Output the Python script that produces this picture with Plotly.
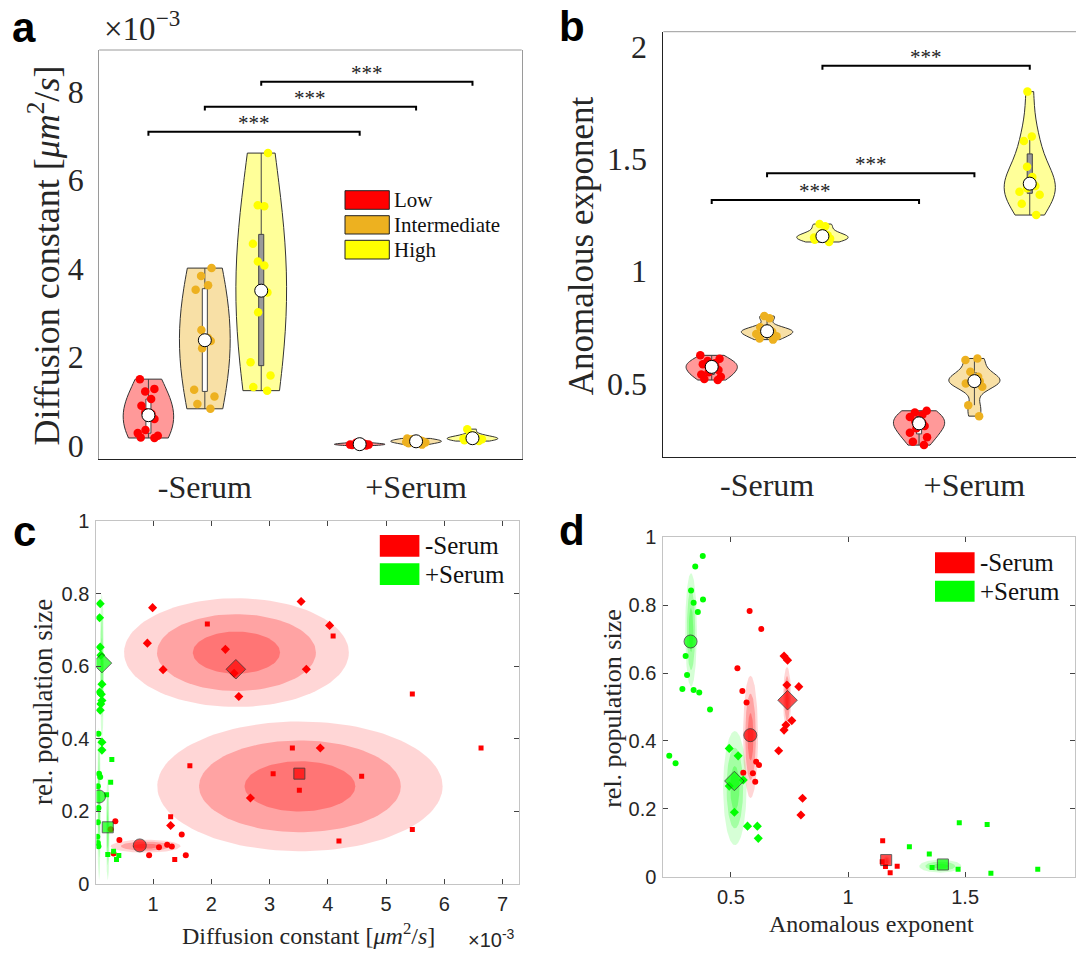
import numpy as np
import plotly.graph_objects as go

W, H = 1076, 956
SERIF = "Liberation Serif"
SANS = "Liberation Sans"

# ---------------- data ----------------
groups = ['-Serum', '+Serum']
levels = ['Low', 'Intermediate', 'High']
level_colors = ['#FF0000', '#EDB120', '#FFFF00']
level_fill = ['rgba(255,0,0,0.4)', 'rgba(237,177,32,0.4)', 'rgba(255,255,0,0.4)']
level_box = ['white', 'white', '#9a9a9a']
group_pos = [1, 2]
level_offset = [-0.267, 0.0, 0.267]

# Panel a: diffusion constant (x1e-3 um^2/s)
D_minus_low = [1.50, 1.28, 1.22, 1.05, 0.90, 0.75, 0.72, 0.65, 0.60, 0.35, 0.28, 0.22, 0.18, 0.17]
D_minus_int = [4.01, 3.83, 3.62, 3.52, 2.61, 2.43, 2.38, 2.36, 2.20, 1.26, 1.11, 0.94, 0.83]
D_minus_high = [6.61, 5.43, 5.41, 4.56, 4.16, 4.07, 3.50, 3.46, 3.01, 1.88, 1.58, 1.32, 1.24]
D_plus_low = [0.00, 0.01, 0.02, 0.02, 0.03, 0.03, 0.04, 0.05, 0.06]
D_plus_int = [0.02, 0.05, 0.07, 0.08, 0.09, 0.10, 0.11, 0.12, 0.14, 0.16]
D_plus_high = [0.10, 0.12, 0.14, 0.15, 0.16, 0.17, 0.18, 0.20, 0.25, 0.37]

# Panel b: anomalous exponent
A_minus_low = [0.625, 0.61, 0.60, 0.59, 0.585, 0.58, 0.577, 0.57, 0.56, 0.55, 0.54, 0.53, 0.52, 0.515]
A_minus_int = [0.80, 0.79, 0.75, 0.74, 0.738, 0.735, 0.73, 0.725, 0.72, 0.71, 0.70, 0.695]
A_minus_high = [1.21, 1.20, 1.17, 1.16, 1.156, 1.15, 1.145, 1.14, 1.13]
A_plus_low = [0.378, 0.37, 0.36, 0.35, 0.33, 0.325, 0.322, 0.31, 0.30, 0.28, 0.26, 0.24, 0.225]
A_plus_int = [0.611, 0.604, 0.552, 0.53, 0.52, 0.51, 0.507, 0.50, 0.485, 0.403, 0.354]
A_plus_high = [1.80, 1.60, 1.58, 1.465, 1.42, 1.40, 1.38, 1.37, 1.354, 1.34, 1.30, 1.25]

# significance brackets: level index and bracket height
a_bracket_levels = [0, 1, 2]
a_bracket_y = [7.09, 7.66, 8.22]
b_bracket_levels = [0, 1, 2]
b_bracket_y = [1.317, 1.436, 1.915]
sig_label = '***'

# Panel c: diffusion constant (x1e-3) vs rel. population size
c_minus_low_x = [0.35, 0.27, 0.42, 0.32, 0.93, 1.10, 1.24, 1.32, 1.49, 1.56]
c_minus_low_y = [0.172, 0.150, 0.120, 0.083, 0.078, 0.100, 0.107, 0.102, 0.135, 0.078]
c_minus_int_x = [0.99, 0.90, 1.17, 2.24, 2.39, 2.47, 3.54, 4.03, 3.63, 3.87, 2.67, 1.30]
c_minus_int_y = [0.761, 0.663, 0.590, 0.646, 0.580, 0.516, 0.778, 0.712, 0.591, 0.374, 0.236, 0.160]
c_minus_high_x = [1.93, 4.09, 5.45, 6.63, 3.39, 3.06, 3.51, 4.58, 1.63, 5.45, 4.19, 1.30, 1.37]
c_minus_high_y = [0.716, 0.683, 0.523, 0.374, 0.374, 0.303, 0.257, 0.296, 0.325, 0.149, 0.117, 0.184, 0.066]
c_plus_low_x = [0.06, 0.07, 0.09, 0.05, 0.06, 0.05, 0.04, 0.05, 0.06]
c_plus_low_y = [0.413, 0.303, 0.294, 0.268, 0.208, 0.169, 0.129, 0.112, 0.103]
c_plus_int_x = [0.09, 0.08, 0.09, 0.10, 0.12, 0.08, 0.11, 0.10, 0.12, 0.09, 0.12, 0.12]
c_plus_int_y = [0.772, 0.733, 0.652, 0.630, 0.550, 0.528, 0.522, 0.495, 0.505, 0.478, 0.390, 0.368]
c_plus_high_x = [0.29, 0.27, 0.20, 0.32, 0.22, 0.41, 0.37]
c_plus_high_y = [0.342, 0.279, 0.245, 0.089, 0.080, 0.077, 0.066]
c_mean_x = {'minus': [0.77, 2.42, 3.51], 'plus': [0.07, 0.12, 0.22]}
c_mean_y = {'minus': [0.105, 0.591, 0.303], 'plus': [0.240, 0.608, 0.155]}
# ellipses (center, outer semi-axes)
c_ell_cx = {'minus': [0.87, 2.43, 3.52], 'plus': [0.07, 0.12, 0.22]}
c_ell_cy = {'minus': [0.103, 0.637, 0.268], 'plus': [0.22, 0.60, 0.15]}
c_ell_ax = {'minus': [0.60, 1.93, 2.45], 'plus': [0.03, 0.035, 0.03]}
c_ell_ay = {'minus': [0.018, 0.150, 0.179], 'plus': [0.21, 0.20, 0.14]}

# Panel d: anomalous exponent vs rel. population size
d_minus_low_x = [0.580, 0.630, 0.528, 0.549, 0.567, 0.608, 0.620, 0.594, 0.553, 0.604]
d_minus_low_y = [0.783, 0.730, 0.614, 0.547, 0.513, 0.339, 0.329, 0.305, 0.306, 0.280]
d_minus_int_x = [0.727, 0.742, 0.790, 0.739, 0.760, 0.735, 0.727, 0.704, 0.806, 0.799]
d_minus_int_y = [0.650, 0.638, 0.560, 0.565, 0.460, 0.447, 0.432, 0.371, 0.231, 0.182]
d_minus_high_x = [1.148, 1.146, 1.160, 1.210, 1.180]
d_minus_high_y = [0.106, 0.044, 0.030, 0.031, 0.012]
d_plus_low_x = [0.380, 0.348, 0.330, 0.341, 0.381, 0.359, 0.307, 0.313, 0.293, 0.341, 0.365, 0.411, 0.237, 0.264]
d_plus_low_y = [0.945, 0.914, 0.843, 0.807, 0.817, 0.780, 0.650, 0.594, 0.553, 0.550, 0.543, 0.493, 0.356, 0.334]
d_plus_int_x = [0.493, 0.531, 0.553, 0.493, 0.515, 0.571, 0.613, 0.617]
d_plus_int_y = [0.378, 0.356, 0.285, 0.267, 0.190, 0.149, 0.149, 0.113]
d_plus_high_x = [1.262, 1.347, 1.359, 1.470, 1.475, 1.594, 1.610, 1.810]
d_plus_high_y = [0.088, 0.067, 0.027, 0.022, 0.159, 0.154, 0.010, 0.022]
d_mean_x = {'minus': [0.583, 0.742, 1.163], 'plus': [0.328, 0.515, 1.405]}
d_mean_y = {'minus': [0.417, 0.520, 0.049], 'plus': [0.693, 0.282, 0.036]}
d_ell_cx = {'minus': [0.584, 0.740, 1.165], 'plus': [0.330, 0.517, 1.394]}
d_ell_cy = {'minus': [0.412, 0.525, 0.045], 'plus': [0.727, 0.261, 0.031]}
d_ell_ax = {'minus': [0.032, 0.017, 0.015], 'plus': [0.025, 0.050, 0.090]}
d_ell_ay = {'minus': [0.180, 0.093, 0.015], 'plus': [0.167, 0.168, 0.019]}

level_symbols = ['circle', 'diamond', 'square']
group_col = {'minus': '#FF0000', 'plus': '#00FF00'}
group_rgb = {'minus': '255,0,0', 'plus': '0,255,0'}
ell_scales = [1.0, 0.707, 0.388]
ell_alpha = [0.16, 0.24, 0.28]
bw_factor = {'a': 2.3, 'b': 1.6}

# ---------------- figure ----------------
fig = go.Figure()

def px_x(p):
    return p / W

def px_y(p):
    return 1 - p / H

def silverman(v):
    v = np.asarray(v, float)
    sd = v.std(ddof=1)
    iqr = np.subtract(*np.percentile(v, [75, 25]))
    s = min(sd, iqr / 1.34) if iqr > 0 else sd
    return 0.9 * s * len(v) ** (-0.2)

violin_sets = {
    'a': [[D_minus_low, D_minus_int, D_minus_high], [D_plus_low, D_plus_int, D_plus_high]],
    'b': [[A_minus_low, A_minus_int, A_minus_high], [A_plus_low, A_plus_int, A_plus_high]],
}
axes_of = {'a': ('x', 'y'), 'b': ('x2', 'y2')}
vwidth = {'a': 0.239, 'b': 0.247}

for panel, sets in violin_sets.items():
    xa, ya = axes_of[panel]
    for gi, gsets in enumerate(sets):
        for li, vals in enumerate(gsets):
            pos = group_pos[gi] + level_offset[li]
            fig.add_trace(go.Violin(
                x0=pos, y=vals, xaxis=xa, yaxis=ya, width=vwidth[panel],
                scalemode='width', spanmode='hard', side='both',
                bandwidth=bw_factor[panel] * silverman(vals),
                fillcolor=level_fill[li], line=dict(color='#333333', width=1),
                points='all', pointpos=0, jitter=0.5,
                marker=dict(color=level_colors[li], size=8.5, opacity=1, line=dict(width=0)),
                box=dict(visible=True, width=0.1, fillcolor=level_box[li],
                         line=dict(color='#444444', width=1)),
                meanline=dict(visible=False), showlegend=False, hoverinfo='y'))
            fig.add_trace(go.Scatter(
                x=[pos], y=[float(np.median(vals))], xaxis=xa, yaxis=ya, mode='markers',
                marker=dict(color='white', size=13, line=dict(color='black', width=1)),
                showlegend=False, hoverinfo='skip'))

shapes = []
annotations = []

def add_brackets(lev, ys, xa, ya, drop):
    for li, yb in zip(lev, ys):
        x1 = group_pos[0] + level_offset[li]
        x2 = group_pos[1] + level_offset[li]
        shapes.append(dict(type='path', xref=xa, yref=ya,
                           path=f'M {x1},{yb - drop} L {x1},{yb} L {x2},{yb} L {x2},{yb - drop}',
                           line=dict(color='black', width=2)))
        annotations.append(dict(x=(x1 + x2) / 2, y=yb, xref=xa, yref=ya, text=sig_label,
                                showarrow=False, yanchor='bottom', yshift=-5,
                                font=dict(family=SERIF, size=21, color='#222')))

add_brackets(a_bracket_levels, a_bracket_y, 'x', 'y', 0.09)
add_brackets(b_bracket_levels, b_bracket_y, 'x2', 'y2', 0.018)

def ellipse(cx, cy, ax, ay, n=120):
    t = np.linspace(0, 2 * np.pi, n)
    return cx + ax * np.cos(t), cy + ay * np.sin(t)

scatter_sets = {
    'c': {'minus': [(c_minus_low_x, c_minus_low_y), (c_minus_int_x, c_minus_int_y), (c_minus_high_x, c_minus_high_y)],
          'plus': [(c_plus_low_x, c_plus_low_y), (c_plus_int_x, c_plus_int_y), (c_plus_high_x, c_plus_high_y)]},
    'd': {'minus': [(d_minus_low_x, d_minus_low_y), (d_minus_int_x, d_minus_int_y), (d_minus_high_x, d_minus_high_y)],
          'plus': [(d_plus_low_x, d_plus_low_y), (d_plus_int_x, d_plus_int_y), (d_plus_high_x, d_plus_high_y)]},
}
ell_sets = {'c': (c_ell_cx, c_ell_cy, c_ell_ax, c_ell_ay), 'd': (d_ell_cx, d_ell_cy, d_ell_ax, d_ell_ay)}
mean_sets = {'c': (c_mean_x, c_mean_y), 'd': (d_mean_x, d_mean_y)}
axes_sc = {'c': ('x3', 'y3'), 'd': ('x4', 'y4')}

for panel in ['c', 'd']:
    xa, ya = axes_sc[panel]
    ecx, ecy, eax, eay = ell_sets[panel]
    for g in ['minus', 'plus']:
        for li in range(3):
            for s, al in zip(ell_scales, ell_alpha):
                ex, ey = ellipse(ecx[g][li], ecy[g][li], eax[g][li] * s, eay[g][li] * s)
                fig.add_trace(go.Scatter(x=ex, y=ey, xaxis=xa, yaxis=ya, mode='lines',
                                         fill='toself', fillcolor=f'rgba({group_rgb[g]},{al})',
                                         line=dict(width=0), showlegend=False, hoverinfo='skip'))
    for g in ['minus', 'plus']:
        for li in range(3):
            xs, ys = scatter_sets[panel][g][li]
            fig.add_trace(go.Scatter(x=xs, y=ys, xaxis=xa, yaxis=ya, mode='markers',
                                     marker=dict(symbol=level_symbols[li], color=group_col[g],
                                                 size=[6, 7, 5][li], line=dict(width=0)),
                                     showlegend=False, hoverinfo='skip'))
    mx, my = mean_sets[panel]
    for g in ['minus', 'plus']:
        fig.add_trace(go.Scatter(x=mx[g], y=my[g], xaxis=xa, yaxis=ya, mode='markers',
                                 marker=dict(symbol=level_symbols, color=group_col[g],
                                             size=[13, 15, 11], line=dict(color='#222', width=1)),
                                 showlegend=False, hoverinfo='skip'))

# ---------------- axes ----------------
serif_tick = dict(family=SERIF, size=32, color='#262626')
sans_tick = dict(family=SANS, size=20, color='#262626')
common = dict(showgrid=False, zeroline=False, automargin=False)

layout_axes = dict(
    xaxis=dict(domain=[px_x(99.2), px_x(521.7)], range=[0.5, 2.5], anchor='y',
               tickvals=group_pos, ticktext=groups, tickfont=serif_tick, ticks='',
               showline=True, linecolor='#222', linewidth=1, ticklabelstandoff=0, **common),
    yaxis=dict(domain=[px_y(459), px_y(50)], range=[-0.305, 8.94], anchor='x',
               tickvals=[0, 2, 4, 6, 8], tickfont=serif_tick, ticks='',
               showline=True, linecolor='#9a9a9a', linewidth=1, mirror=True,
               ticklabelstandoff=8, **common),
    xaxis2=dict(domain=[px_x(663.4), 1.0], range=[0.5, 2.49], anchor='y2',
                tickvals=group_pos, ticktext=groups, tickfont=serif_tick, ticks='',
                showline=True, linecolor='#222', linewidth=1, ticklabelstandoff=0, **common),
    yaxis2=dict(domain=[px_y(457), px_y(31.7)], range=[0.172, 2.067], anchor='x2',
                tickvals=[0.5, 1, 1.5, 2], ticktext=['0.5', '1', '1.5', '2'],
                tickfont=serif_tick, ticks='', showline=True, linecolor='#222', linewidth=1,
                ticklabelstandoff=9, **common),
    xaxis3=dict(domain=[px_x(96.4), px_x(518.9)], range=[0.025, 7.28], anchor='y3',
                tickvals=[1, 2, 3, 4, 5, 6, 7], tickfont=sans_tick, ticks='inside', ticklen=5,
                tickcolor='#444', showline=True, linecolor='#c4c4c4', linewidth=1, mirror='ticks',
                ticklabelstandoff=2, **common),
    yaxis3=dict(domain=[px_y(883.5), px_y(521)], range=[0, 1], anchor='x3',
                tickvals=[0, 0.2, 0.4, 0.6, 0.8, 1], ticktext=['0', '0.2', '0.4', '0.6', '0.8', '1'],
                tickfont=sans_tick, ticks='inside', ticklen=5, tickcolor='#444', showline=True,
                linecolor='#c4c4c4', linewidth=1, mirror='ticks', ticklabelstandoff=2, **common),
    xaxis4=dict(domain=[px_x(663.4), px_x(1075)], range=[0.212, 1.969], anchor='y4',
                tickvals=[0.5, 1, 1.5], ticktext=['0.5', '1', '1.5'], tickfont=sans_tick,
                ticks='inside', ticklen=5, tickcolor='#444', showline=True, linecolor='#c4c4c4',
                linewidth=1, mirror='ticks', ticklabelstandoff=2, **common),
    yaxis4=dict(domain=[px_y(876.7), px_y(537.3)], range=[0, 1], anchor='x4',
                tickvals=[0, 0.2, 0.4, 0.6, 0.8, 1], ticktext=['0', '0.2', '0.4', '0.6', '0.8', '1'],
                tickfont=sans_tick, ticks='inside', ticklen=5, tickcolor='#444', showline=True,
                linecolor='#c4c4c4', linewidth=1, mirror='ticks', ticklabelstandoff=2, **common),
)

shapes.append(dict(type='line', xref='paper', yref='paper', x0=px_x(99.2), x1=px_x(521.7),
                   y0=px_y(50), y1=px_y(50), line=dict(color='#9a9a9a', width=1)))
shapes.append(dict(type='line', xref='paper', yref='paper', x0=px_x(663.4), x1=1.0,
                   y0=px_y(31.7), y1=px_y(31.7), line=dict(color='#9a9a9a', width=1)))

def ann(text, x, y, size, family=SERIF, angle=0, xanchor='center', yanchor='middle', color='#262626', bold=False):
    annotations.append(dict(text=f'<b>{text}</b>' if bold else text, x=px_x(x), y=px_y(y),
                            xref='paper', yref='paper', showarrow=False, textangle=angle,
                            xanchor=xanchor, yanchor=yanchor,
                            font=dict(family=family, size=size, color=color)))

ann('a', 24, 27, 42, family=SANS, bold=True, color='black')
ann('b', 572, 26, 42, family=SANS, bold=True, color='black')
ann('c', 24, 531, 42, family=SANS, bold=True, color='black')
ann('d', 572, 530, 42, family=SANS, bold=True, color='black')

ann('Diffusion constant [<i>μm</i><sup>2</sup>/<i>s</i>]', 44.8, 255.8, 36, angle=-90)
ann('×10<sup>−3</sup>', 101.7, 26, 33, xanchor='left')
leg_a_y = [(190.7, 209.3), (215.7, 234.0), (240.3, 259.0)]
for li, (y0, y1) in enumerate(leg_a_y):
    shapes.append(dict(type='rect', xref='paper', yref='paper', x0=px_x(345), x1=px_x(389.3),
                       y0=px_y(y1), y1=px_y(y0), fillcolor=level_colors[li],
                       line=dict(color='#222', width=1)))
    ann(levels[li], 392, (y0 + y1) / 2, 21, xanchor='left', color='#111')

ann('Anomalous exponent', 581.4, 245.8, 35, angle=-90)

ann('rel. population size', 43, 702, 27, angle=-90)
ann('Diffusion constant [<i>μm</i><sup>2</sup>/<i>s</i>]', 308, 934, 24)
ann('×10<sup>-3</sup>', 466, 938, 20, family=SANS, xanchor='left')
ann('rel. population size', 611.8, 708, 26, angle=-90)
ann('Anomalous exponent', 872, 924, 24)

legend_groups = ['-Serum', '+Serum']
leg_cd = {'c': (379.8, 419.4, 422.9, [(535, 556.7), (563.3, 585)]),
          'd': (935, 974.6, 978.1, [(552.3, 573.3), (580.7, 601.7)])}
for panel, (lx0, lx1, tx, ys) in leg_cd.items():
    for gi, (g, (y0, y1)) in enumerate(zip(['minus', 'plus'], ys)):
        shapes.append(dict(type='rect', xref='paper', yref='paper', x0=px_x(lx0), x1=px_x(lx1),
                           y0=px_y(y1), y1=px_y(y0), fillcolor=group_col[g], line=dict(width=0)))
        ann(legend_groups[gi], tx, (y0 + y1) / 2, 25, xanchor='left', color='#111')

fig.update_layout(width=W, height=H, margin=dict(l=0, r=0, t=0, b=0, pad=0, autoexpand=False),
                  autosize=False, template='none',
                  paper_bgcolor='white', plot_bgcolor='rgba(0,0,0,0)',
                  violinmode='overlay', showlegend=False,
                  shapes=shapes, annotations=annotations, **layout_axes)

fig.write_html("out.html", config={'displayModeBar': False, 'responsive': False},
               post_script="document.body.style.margin='0px';document.body.style.overflow='hidden';")
